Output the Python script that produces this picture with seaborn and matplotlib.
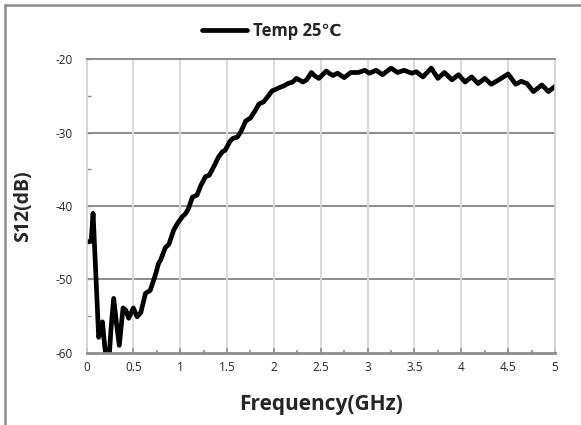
import matplotlib
matplotlib.use("Agg")
import matplotlib.pyplot as plt
import seaborn as sns
import pandas as pd
from matplotlib.lines import Line2D
from matplotlib.ticker import MultipleLocator

freq = [0.00, 0.05, 0.07, 0.13, 0.15, 0.17, 0.19, 0.21, 0.24, 0.26, 0.29, 0.32, 0.35,
        0.39, 0.42, 0.45, 0.50, 0.54, 0.58, 0.63, 0.68, 0.73, 0.77, 0.79, 0.84, 0.88,
        0.93, 0.97, 1.02, 1.06, 1.09, 1.13, 1.18, 1.22, 1.27, 1.31, 1.36, 1.41, 1.45,
        1.48, 1.53, 1.56, 1.61, 1.65, 1.70, 1.75, 1.80, 1.84, 1.89, 1.94, 1.98, 2.02,
        2.07, 2.11, 2.15, 2.20, 2.24, 2.31, 2.35, 2.40, 2.44, 2.48, 2.56, 2.59, 2.63,
        2.68, 2.75, 2.82, 2.90, 2.97, 3.02, 3.09, 3.16, 3.25, 3.32, 3.39, 3.47, 3.52,
        3.59, 3.68, 3.75, 3.82, 3.90, 3.97, 4.04, 4.11, 4.18, 4.25, 4.32, 4.40, 4.50,
        4.58, 4.64, 4.70, 4.77, 4.86, 4.93, 5.00]
s12 = [-44.9, -44.8, -41.0, -57.9, -57.2, -55.8, -58.5, -61.0, -61.0, -57.0, -52.6, -56.0, -59.0,
       -53.9, -54.2, -55.3, -53.9, -55.1, -54.5, -51.9, -51.5, -49.6, -47.8, -47.4, -45.7, -45.2,
       -43.3, -42.4, -41.5, -41.0, -40.3, -38.8, -38.5, -37.2, -36.0, -35.8, -34.6, -33.3, -32.6,
       -32.4, -31.2, -30.8, -30.6, -29.8, -28.4, -28.0, -27.0, -26.1, -25.8, -25.0, -24.3, -24.1,
       -23.8, -23.6, -23.3, -23.1, -22.6, -23.1, -22.8, -21.8, -22.3, -22.6, -21.6, -21.9, -22.2,
       -21.9, -22.5, -21.8, -21.8, -21.5, -21.9, -21.5, -22.1, -21.2, -21.8, -21.5, -21.9, -21.7,
       -22.4, -21.2, -22.6, -21.8, -22.8, -22.1, -23.1, -22.4, -23.3, -22.6, -23.4, -22.8, -22.0,
       -23.4, -23.0, -23.3, -24.4, -23.5, -24.4, -23.7]

x_ticks = [0, 0.5, 1, 1.5, 2, 2.5, 3, 3.5, 4, 4.5, 5]
x_tick_labels = ["0", "0.5", "1", "1.5", "2", "2.5", "3", "3.5", "4", "4.5", "5"]
y_ticks = [-60, -50, -40, -30, -20]
series_name = "Temp 25℃"

sns.set_style("white")
plt.rcParams['font.family'] = ['Open Sans', 'DejaVu Sans']
plt.rcParams['axes.unicode_minus'] = False

df = pd.DataFrame({"Frequency": freq, "S12": s12, "series": series_name})

fig = plt.figure(figsize=(5.81, 4.25), dpi=100)
ax = fig.add_axes([86.5/581, 1-352.7/425, (555-86.5)/581, (352.7-59.3)/425])

sns.lineplot(data=df, x="Frequency", y="S12", hue="series", palette=["black"],
             linewidth=3.4, ax=ax, legend=True)
for ln in ax.get_lines():
    ln.set_solid_joinstyle("round")
    ln.set_solid_capstyle("round")

ax.set_xlim(0, 5)
ax.set_ylim(-60, -20)
ax.set_xticks(x_ticks)
ax.set_xticklabels(x_tick_labels)
ax.set_yticks(y_ticks)
ax.xaxis.set_minor_locator(MultipleLocator(0.25))
ax.yaxis.set_minor_locator(MultipleLocator(5))

# grid
ax.grid(False)
for yv in y_ticks[1:-1]:
    ax.axhline(yv, color="#8c8c8c", lw=1.4, zorder=0)
for xv in x_ticks[1:-1]:
    ax.axvline(xv, color="#d9d9d9", lw=1.4, zorder=0)

for side in ["left", "right"]:
    ax.spines[side].set_color("#d0d0d0")
    ax.spines[side].set_linewidth(1.2)
ax.spines["top"].set_color("#8c8c8c")
ax.spines["top"].set_linewidth(1.4)
ax.spines["bottom"].set_color("#8c8c8c")
ax.spines["bottom"].set_linewidth(2.0)

ax.tick_params(axis="x", which="both", direction="in", bottom=True, top=False,
               color="#8c8c8c", width=1.2, labelsize=8.5, pad=6)
ax.tick_params(axis="x", which="major", length=3.5)
ax.tick_params(axis="x", which="minor", length=2.5)
ax.tick_params(axis="y", which="both", direction="in", left=True, right=False,
               color="#8c8c8c", width=1.0, labelsize=8.5, pad=10)
ax.tick_params(axis="y", which="major", length=3)
ax.tick_params(axis="y", which="minor", length=3)

ax.set_xlabel("Frequency(GHz)", fontsize=15, fontweight="bold")
ax.set_ylabel("S12(dB)", fontsize=14, fontweight="bold")
ax.xaxis.set_label_coords(0.5, -0.14)
ax.yaxis.set_label_coords(-0.115, 0.5)

leg = ax.legend(loc="center", bbox_to_anchor=(272/581, 1-31/425),
                bbox_transform=fig.transFigure, frameon=False,
                prop={"weight": "bold", "size": 12}, handlelength=2.7, handletextpad=0.35)
for line in leg.get_lines():
    line.set_linewidth(3.4)

# outer chart border (left and top visible)
fig.add_artist(Line2D([5/581, 5/581], [0, 1-5/425], transform=fig.transFigure,
                      color="#8c8c8c", lw=1.8))
fig.add_artist(Line2D([5/581, 1], [1-5/425, 1-5/425], transform=fig.transFigure,
                      color="#8c8c8c", lw=1.8))

fig.savefig("out.png", dpi=100)
